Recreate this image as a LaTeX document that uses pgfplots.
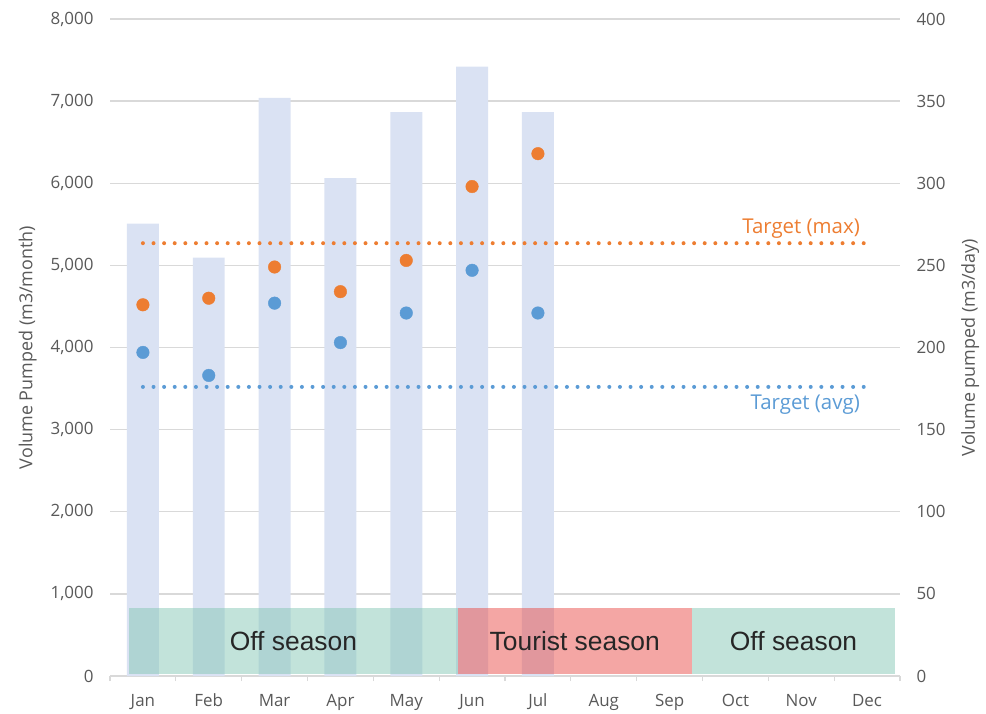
\documentclass[border=0pt]{standalone}
\usepackage{fontspec}
\setmainfont{Open Sans}
\newfontfamily\bandfont{Liberation Sans}
\usepackage{pgfplots}
\pgfplotsset{compat=1.18}
\definecolor{txt}{HTML}{595959}
\definecolor{gridc}{HTML}{D9D9D9}
\definecolor{barc}{HTML}{DAE2F3}
\definecolor{tealc}{RGB}{133,199,181}
\definecolor{pinkc}{RGB}{233,77,73}
\definecolor{org}{HTML}{ED7D31}
\definecolor{blu}{HTML}{5B9BD5}
\begin{document}
\begin{tikzpicture}
\path[use as bounding box] (0,0) rectangle (986bp,714bp);
\begin{axis}[
  at={(110bp,38bp)}, anchor=south west,
  scale only axis, width=790bp, height=657bp,
  xmin=-0.5, xmax=11.5, ymin=0, ymax=8000,
  axis lines*=left,
  y axis line style={draw=none},
  x axis line style={gridc, line width=1.3bp},
  xtick={0,...,11},
  xticklabels={Jan,Feb,Mar,Apr,May,Jun,Jul,Aug,Sep,Oct,Nov,Dec},
  minor xtick={-0.5,0.5,...,11.5},
  major tick length=0pt, minor tick length=5bp, tick align=outside,
  minor x tick style={gridc, line width=1.3bp},
  ytick={0,1000,...,8000},
  ymajorgrids, major grid style={gridc, line width=1.3bp},
  /pgf/number format/.cd, 1000 sep={,}, assume math mode=true, /pgfplots/.cd,
  tick label style={font=\fontsize{17}{20}\selectfont, text=txt},
  yticklabel style={xshift=-13bp},
  xticklabel style={text height=12bp, text depth=3bp, yshift=-15bp},
  ylabel={Volume Pumped (m3/month)},
  every axis y label/.style={at={(axis description cs:-0.104,0.5)}, rotate=90, anchor=center, font=\fontsize{18}{22}\selectfont, text=txt},
  clip=false,
]
\addplot[ybar, bar width=0.486, fill=barc, draw=none]
  coordinates {(0,5508) (1,5094) (2,7040) (3,6062) (4,6866) (5,7421) (6,6866)};
\addplot[fill=tealc, fill opacity=0.5, draw=none]
  coordinates {(-0.211,25) (4.782,25) (4.782,830) (-0.211,830)} -- cycle;
\addplot[fill=pinkc, fill opacity=0.5, draw=none]
  coordinates {(4.782,25) (8.341,25) (8.341,830) (4.782,830)} -- cycle;
\addplot[fill=tealc, fill opacity=0.5, draw=none]
  coordinates {(8.341,25) (11.425,25) (11.425,830) (8.341,830)} -- cycle;
\node[font=\bandfont\fontsize{26.5}{30}\selectfont, text=black!85] at (axis cs:2.286,420) {Off season};
\node[font=\bandfont\fontsize{26.5}{30}\selectfont, text=black!85] at (axis cs:6.56,420) {Tourist season};
\node[font=\bandfont\fontsize{26.5}{30}\selectfont, text=black!85] at (axis cs:9.883,420) {Off season};
\end{axis}
\begin{axis}[
  at={(110bp,38bp)}, anchor=south west,
  scale only axis, width=790bp, height=657bp,
  xmin=-0.5, xmax=11.5, ymin=0, ymax=400,
  hide x axis,
  axis y line*=right,
  y axis line style={draw=none},
  ytick={0,50,...,400},
  major tick length=0pt,
  /pgf/number format/.cd, assume math mode=true, /pgfplots/.cd,
  tick label style={font=\fontsize{17}{20}\selectfont, text=txt},
  yticklabel style={xshift=13bp},
  ylabel={Volume pumped (m3/day)},
  every axis y label/.style={at={(axis description cs:1.089,0.5)}, rotate=90, anchor=center, font=\fontsize{18}{22}\selectfont, text=txt},
  clip=false,
]
\addplot[org, line width=4bp, dash pattern=on 0bp off 10.6bp, line cap=round]
  coordinates {(0,263.5) (11,263.5)};
\addplot[blu, line width=4bp, dash pattern=on 0bp off 10.6bp, line cap=round]
  coordinates {(0,176) (11,176)};
\addplot[only marks, mark=*, mark size=6.3bp, mark options={fill=org, draw=org}]
  coordinates {(0,226) (1,230) (2,249) (3,234) (4,253) (5,298) (6,318)};
\addplot[only marks, mark=*, mark size=6.3bp, mark options={fill=blu, draw=blu}]
  coordinates {(0,197) (1,183) (2,227) (3,203) (4,221) (5,247) (6,221)};
\node[font=\fontsize{20.5}{24}\selectfont, text=org, anchor=base east, inner sep=0pt, yshift=10bp] at (axis cs:10.893,263.5) {Target (max)};
\node[font=\fontsize{20.5}{24}\selectfont, text=blu, anchor=base east, inner sep=0pt, yshift=-23bp] at (axis cs:10.893,176) {Target (avg)};
\end{axis}
\end{tikzpicture}
\end{document}
